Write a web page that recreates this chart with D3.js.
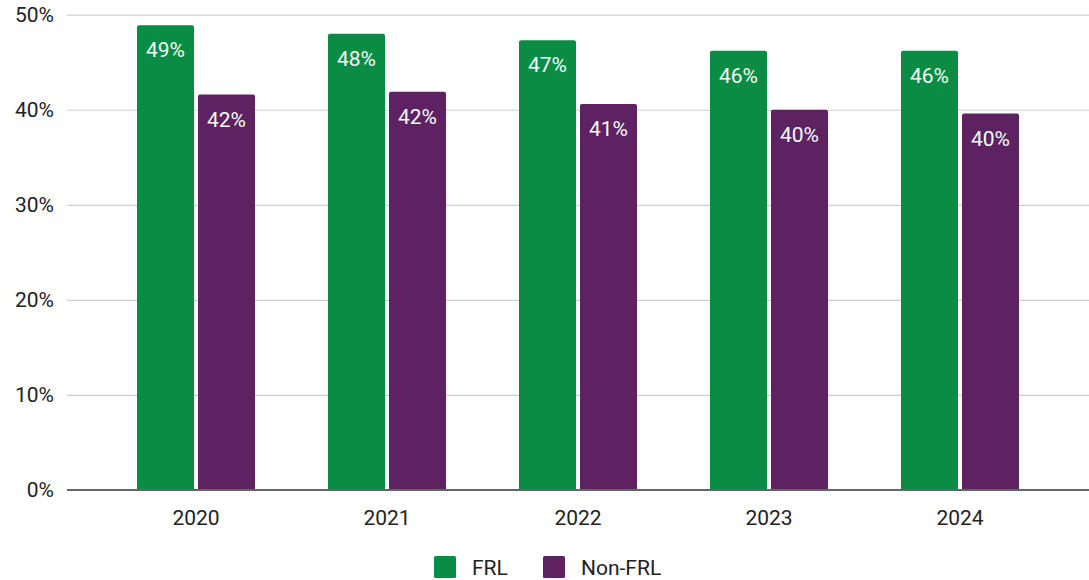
<!DOCTYPE html>
<html>
<head>
<meta charset="utf-8">
<script src="https://cdn.jsdelivr.net/npm/d3@7"></script>
<style>
  html, body { margin: 0; padding: 0; background: #fff; }
  svg { display: block; font-family: Roboto, "Noto Sans", sans-serif; }
</style>
</head>
<body>
<svg id="chart" width="1089" height="580"></svg>
<script>
// Share of students, by year and FRL status
const years = ["2020", "2021", "2022", "2023", "2024"];
const seriesNames = ["FRL", "Non-FRL"];
const frlValues = [0.489, 0.480, 0.473, 0.462, 0.462];
const nonFrlValues = [0.416, 0.419, 0.406, 0.400, 0.396];
const yTicks = [0, 0.1, 0.2, 0.3, 0.4, 0.5];
const colors = ["#0b8c45", "#5e2262"];

const svg = d3.select("#chart");
const gridLeft = 67, gridRight = 1089;
const yTop = 14.7, yBottom = 490;
const fontSize = 21;

const x0 = d3.scaleBand().domain(years).range([100.5, 1055.5])
  .paddingInner(0.382).paddingOuter(0.191);
const x1 = d3.scaleBand().domain(seriesNames).range([0, x0.bandwidth()])
  .paddingInner(4 / 61);
const y = d3.scaleLinear().domain([0, 0.5]).range([yBottom, yTop]);
const pct = d3.format(".0%");

const rows = years.map((yr, i) => ({
  year: yr,
  values: [
    { key: seriesNames[0], value: frlValues[i], color: colors[0] },
    { key: seriesNames[1], value: nonFrlValues[i], color: colors[1] }
  ]
}));

// Gridlines and y tick labels
const yAxis = d3.axisLeft(y).tickValues(yTicks).tickFormat(pct)
  .tickSize(-(gridRight - gridLeft)).tickPadding(13);
const gy = svg.append("g").attr("transform", `translate(${gridLeft},0)`).call(yAxis);
gy.select(".domain").remove();
gy.selectAll(".tick line").attr("stroke", "#cfcfcf").attr("stroke-width", 1.2);
gy.selectAll(".tick text").attr("fill", "#222").attr("font-size", fontSize)
  .attr("font-family", "Roboto, sans-serif");

// Bars with slightly rounded tops
const groups = svg.append("g").selectAll("g").data(rows).join("g")
  .attr("transform", d => `translate(${x0(d.year)},0)`);

const r = 2;
groups.selectAll("path").data(d => d.values).join("path")
  .attr("fill", d => d.color)
  .attr("d", d => {
    const xa = x1(d.key), w = x1.bandwidth();
    const yt = y(d.value), yb = y(0);
    return `M${xa},${yb}V${yt + r}Q${xa},${yt} ${xa + r},${yt}H${xa + w - r}Q${xa + w},${yt} ${xa + w},${yt + r}V${yb}Z`;
  });

groups.selectAll("text").data(d => d.values).join("text")
  .attr("x", d => x1(d.key) + x1.bandwidth() / 2)
  .attr("y", d => y(d.value) + 32)
  .attr("text-anchor", "middle")
  .attr("fill", "#f4fbf6")
  .attr("font-size", fontSize)
  .text(d => pct(d.value));

// Baseline
svg.append("line")
  .attr("x1", gridLeft).attr("x2", gridRight)
  .attr("y1", y(0)).attr("y2", y(0))
  .attr("stroke", "#666").attr("stroke-width", 2);

// X axis labels
const xAxis = d3.axisBottom(x0).tickSize(0).tickPadding(20);
const gx = svg.append("g").attr("transform", `translate(0,${y(0)})`).call(xAxis);
gx.select(".domain").remove();
gx.selectAll(".tick text").attr("fill", "#222").attr("font-size", fontSize)
  .attr("font-family", "Roboto, sans-serif");

// Legend
const legendItems = [
  { name: seriesNames[0], color: colors[0], x: 434 },
  { name: seriesNames[1], color: colors[1], x: 543 }
];
const lg = svg.append("g").selectAll("g").data(legendItems).join("g")
  .attr("transform", d => `translate(${d.x},556)`);
lg.append("rect").attr("width", 22).attr("height", 22).attr("rx", 1.5)
  .attr("fill", d => d.color);
lg.append("text").attr("x", 38).attr("y", 19).attr("font-size", fontSize)
  .attr("fill", "#222").text(d => d.name);
</script>
</body>
</html>
